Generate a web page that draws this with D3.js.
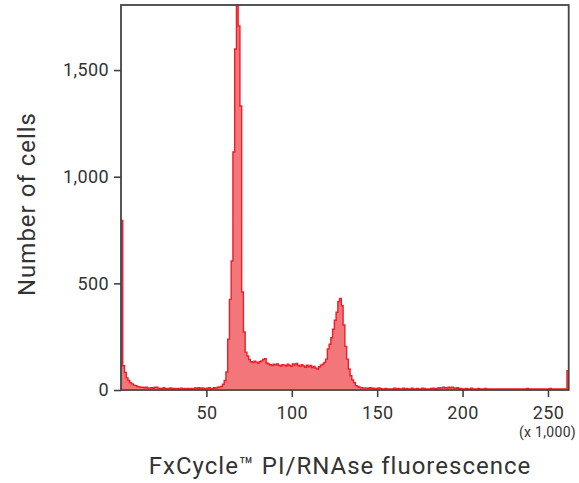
<!DOCTYPE html>
<html>
<head>
<meta charset="utf-8">
<script src="https://cdn.jsdelivr.net/npm/d3@7"></script>
<style>
  body { margin: 0; background: #fff; }
  svg { display: block; }
  .tick text { font-family: Roboto, sans-serif; font-size: 18px; fill: #333; letter-spacing: 0.4px; }
  .title { font-family: Roboto, sans-serif; font-size: 24px; fill: #333; letter-spacing: 1px; }
</style>
</head>
<body>
<svg width="579" height="483"></svg>
<script>
// histogram of PI fluorescence, 256 channels over 0..262,144 (shown in thousands)
var channelMax = 262.144;

var counts = [
    790, 109, 78, 52, 40, 30, 24, 18, 16, 12, 10, 8, 9, 6, 8, 5, 4, 6, 3, 8,
    8, 4, 2, 0, 6, 3, 0, 2, 5, 0, 3, 0, 2, 0, 4, 0, 2, 0, 3, 0,
    2, 0, 5, 2, 6, 0, 5, 2, 0, 4, 6, 0, 3, 6, 4, 8, 10, 12, 22, 40,
    80, 234, 420, 600, 1111, 1594, 1950, 1702, 1327, 455, 267, 173, 155, 138, 128, 124, 130, 126, 122, 128,
    132, 138, 142, 122, 117, 114, 110, 116, 112, 118, 110, 108, 114, 112, 108, 116, 110, 106, 118, 112,
    120, 110, 106, 114, 108, 102, 112, 104, 110, 100, 106, 98, 94, 104, 112, 116, 125, 140, 188, 210,
    240, 280, 322, 360, 410, 425, 390, 300, 200, 140, 94, 62, 42, 30, 16, 12, 8, 6, 4, 5,
    4, 3, 6, 2, 4, 0, 3, 5, 2, 0, 0, 2, 0, 0, 0, 0, 4, 0, 3, 0,
    0, 4, 0, 3, 0, 0, 4, 0, 0, 3, 0, 0, 4, 2, 0, 0, 0, 3, 4, 2,
    0, 5, 6, 4, 8, 6, 5, 9, 6, 8, 5, 3, 6, 0, 2, 0, 0, 3, 0, 0,
    4, 0, 0, 0, 3, 0, 0, 0, 3, 0, 0, 0, 0, 0, 0, 0, 0, 0, 0, 0,
    0, 0, 0, 0, 0, 0, 0, 0, 0, 0, 0, 0, 3, 0, 0, 0, 0, 0, 0, 0,
    0, 0, 0, 0, 0, 3, 0, 0, 0, 0, 0, 0, 0, 0, 0, 86
];

var xTicks = [50, 100, 150, 200, 250];
var yTicks = [0, 500, 1000, 1500];
var yMax = 1805;

var xTitle = "FxCycle\u2122 PI/RNAse fluorescence";
var yTitle = "Number of cells";
var xUnit = "(x 1,000)";

var svg = d3.select("svg");

var margin = { top: 5, right: 10, bottom: 93, left: 121 };
var width = 568.7 - margin.left,
    height = 390 - margin.top;

var binWidth = channelMax / counts.length;

var x = d3.scaleLinear().domain([0, channelMax]).range([0, width]);
var y = d3.scaleLinear().domain([0, yMax]).range([height, 0]);

var points = counts.map(function(c, i) { return { x0: i * binWidth, n: c }; });
points.push({ x0: channelMax, n: counts[counts.length - 1] });

var g = svg.append("g")
    .attr("transform", "translate(" + margin.left + "," + margin.top + ")");

g.append("clipPath")
    .attr("id", "plot-clip")
  .append("rect")
    .attr("width", width)
    .attr("height", height);

var area = d3.area()
    .curve(d3.curveStepAfter)
    .x(function(d) { return x(d.x0); })
    .y0(y(0) - 1)
    .y1(function(d) { return y(d.n) - 1; });

var line = d3.line()
    .curve(d3.curveStepAfter)
    .x(function(d) { return x(d.x0); })
    .y(function(d) { return y(d.n) - 1; });

var hist = g.append("g").attr("clip-path", "url(#plot-clip)");

hist.append("path")
    .datum(points)
    .attr("d", area)
    .attr("fill", "#f3767b");

hist.append("path")
    .datum(points)
    .attr("d", line)
    .attr("fill", "none")
    .attr("stroke", "#ee1d27")
    .attr("stroke-width", 1.4);

// frame
g.append("rect")
    .attr("width", width)
    .attr("height", height)
    .attr("fill", "none")
    .attr("stroke", "#444")
    .attr("stroke-width", 1.8);

var xAxis = g.append("g")
    .attr("transform", "translate(0," + height + ")")
    .call(d3.axisBottom(x).tickValues(xTicks).tickSize(7).tickPadding(9).tickFormat(d3.format("d")));

var yAxis = g.append("g")
    .call(d3.axisLeft(y).tickValues(yTicks).tickSize(7).tickPadding(5).tickFormat(d3.format(",")));

[xAxis, yAxis].forEach(function(a) {
    a.select(".domain").remove();
    a.selectAll(".tick line").attr("stroke", "#444").attr("stroke-width", 1.6);
});

svg.append("text")
    .attr("x", 576)
    .attr("y", 437)
    .attr("text-anchor", "end")
    .style("font-family", "Roboto, sans-serif")
    .style("font-size", "14px")
    .style("letter-spacing", "0.3px")
    .style("fill", "#333")
    .text(xUnit);

svg.append("text")
    .attr("class", "title")
    .attr("x", 340)
    .attr("y", 474)
    .attr("text-anchor", "middle")
    .text(xTitle);

svg.append("text")
    .attr("class", "title")
    .attr("transform", "translate(35,204) rotate(-90)")
    .attr("text-anchor", "middle")
    .text(yTitle);
</script>
</body>
</html>
